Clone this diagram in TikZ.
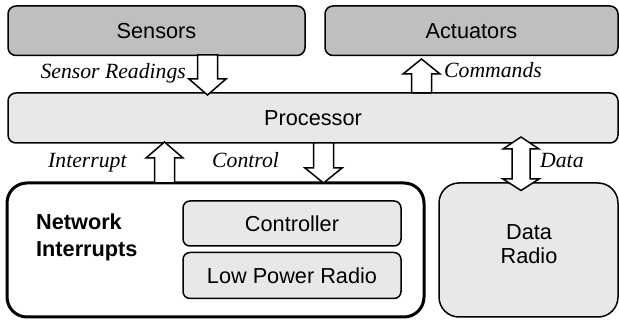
\documentclass[tikz,border=0pt]{standalone}
\usepackage{fontspec}
\setmainfont{Liberation Sans}
\newfontfamily\labelserif{Liberation Serif}
\definecolor{boxdark}{gray}{0.75}
\definecolor{boxlight}{gray}{0.91}
\tikzset{
  txt/.style={font=\fontsize{21.7}{26}\selectfont},
  box/.style={draw=black, line width=1.5pt, rounded corners=8pt, inner sep=0pt, outer sep=0pt, txt},
  darkbox/.style={box, fill=boxdark},
  lightbox/.style={box, fill=boxlight},
  bigbox/.style={draw=black, rounded corners=20pt, inner sep=0pt, outer sep=0pt},
  lbl/.style={inner sep=0pt, font=\fontsize{21.7}{26}\selectfont\labelserif\itshape},
  blockarr/.style={draw=black, fill=white, line width=1.5pt, line join=miter},
}
\newcommand\myblockarrow[4]{%
  \draw[blockarr] ({#1-10},#2) -- ({#1+10},#2) -- ({#1+10},#3) -- ({#1+18.5},#3)
    -- (#1,#4) -- ({#1-18.5},#3) -- ({#1-10},#3) -- cycle;}
\begin{document}
\begin{tikzpicture}[x=1pt,y=-1pt]
\useasboundingbox (0,0) rectangle (619,320);
% top boxes
\node[darkbox, minimum width=297pt, minimum height=49.5pt] (sensors) at (156.5,30.75) {Sensors};
\node[darkbox, minimum width=293pt, minimum height=49.5pt] (actuators) at (471.5,30.75) {Actuators};
\node[lightbox, minimum width=610pt, minimum height=50pt] (processor) at (313,118) {Processor};
% network interrupts
\node[bigbox, line width=3pt, minimum width=417pt, minimum height=134pt] (netint) at (215.5,250) {};
\node[txt, inner sep=0pt, anchor=west, align=left, font=\fontsize{21.7}{27}\selectfont\bfseries] (netlabel) at (36,237) {Network\\Interrupts};
\node[lightbox, rounded corners=7pt, minimum width=218pt, minimum height=45pt] (controller) at (292,223.5) {Controller};
\node[lightbox, rounded corners=7pt, minimum width=218pt, minimum height=46pt] (lpr) at (292,275.5) {Low Power Radio};
% data radio
\node[bigbox, fill=boxlight, line width=1.5pt, minimum width=179pt, minimum height=134pt] (dataradio) at (528.5,250) {};
\node[inner sep=0pt, align=center, font=\fontsize{21.7}{24}\selectfont] (drlabel) at (529,244) {Data\\Radio};
% block arrows
\myblockarrow{207.5}{55}{79}{95}
\myblockarrow{421.5}{93}{74}{59}
\myblockarrow{164.5}{183}{158}{142}
\myblockarrow{323.5}{143}{168}{183}
\draw[blockarr] (512,149) -- (503,149) -- (521,137) -- (539,149) -- (530,149)
  -- (530,179) -- (539,179) -- (521,190.5) -- (503,179) -- (512,179) -- cycle;
% labels
\node[lbl, anchor=base east] (lsr) at (186,78.5) {Sensor Readings};
\node[lbl, anchor=base west] (lcmd) at (444,78) {Commands};
\node[lbl, anchor=base west] (lint) at (48,168) {Interrupt};
\node[lbl, anchor=base west] (lctl) at (212,168) {Control};
\node[lbl, anchor=base west] (ldata) at (540,168) {Data};
\end{tikzpicture}
\end{document}
